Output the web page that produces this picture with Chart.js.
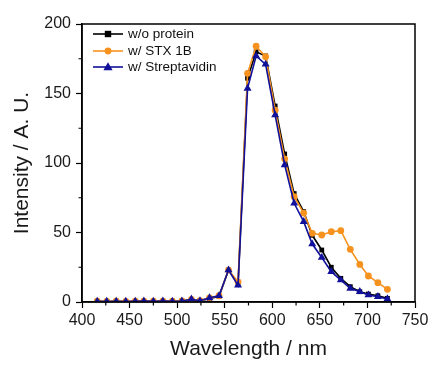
<!DOCTYPE html>
<html><head><meta charset="utf-8">
<script src="https://cdn.jsdelivr.net/npm/chart.js@4/dist/chart.umd.min.js"></script>
<style>html,body{margin:0;padding:0;background:#fff}#wrap{width:433px;height:365px;position:relative}canvas{display:block}</style>
</head><body><div id="wrap"><canvas id="c" width="433" height="365" style="width:433px;height:365px"></canvas></div>
<script>
const wavelengths = [416,426,436,446,456,465,475,485,495,505,515,524,534,544,554,564,574,583,593,603,613,623,633,642,652,662,672,682,692,701,711,721];
const noProtein   = [0.5,0.4,0.5,0.4,0.5,0.6,0.5,0.6,0.5,0.7,1.5,0.8,2.5,4,23,13,161,180,177,141,106.5,78,65,48,37.4,25,17,11,7.4,5.7,4.5,2.6];
const stx1b       = [0.6,0.5,0.6,0.5,0.6,0.7,0.6,0.7,0.6,0.8,1.8,1.0,3,4.5,23,14.5,164.5,184,176.5,138,103,75.8,64,49.4,48.2,50.6,51.3,37.9,27,18.7,13.9,9.1];
const streptavidin= [0.5,0.4,0.5,0.4,0.5,0.6,0.5,0.6,0.5,0.7,2,0.9,3,4.5,23,12,153.7,177,171,134.5,98.6,71,57.8,41.7,32,21.8,15.8,9.8,7.4,5,3.8,2.2];
const seriesNames = ['w/o protein','w/ STX 1B','w/ Streptavidin'];
const xMinorTicks = [425,475,525,575,625,675,725];
const yMinorTicks = [25,75,125,175];

const BLACK='#000000', ORANGE='#F7921E', BLUE='#10109A';
const FONT='"Liberation Sans", Arial, sans-serif';

function pts(ys){ return wavelengths.map((x,i)=>({x:x,y:ys[i]})); }

const frame = {
  id:'frame',
  afterDatasetsDraw(chart){
    const {ctx, chartArea:a, scales:{x,y}} = chart;
    ctx.save();
    ctx.strokeStyle='#000'; ctx.lineWidth=1.5;
    ctx.strokeRect(a.left, a.top, a.right-a.left, a.bottom-a.top);
    ctx.lineWidth=1.2;
    ctx.beginPath();
    xMinorTicks.forEach(v=>{const px=x.getPixelForValue(v); ctx.moveTo(px,a.bottom); ctx.lineTo(px,a.bottom+3.5);});
    yMinorTicks.forEach(v=>{const py=y.getPixelForValue(v); ctx.moveTo(a.left,py); ctx.lineTo(a.left-3.5,py);});
    ctx.stroke();
    // legend
    const rows=[34,51,67];
    chart.data.datasets.forEach((ds,i)=>{
      const yy=rows[i];
      ctx.strokeStyle=ds.borderColor; ctx.lineWidth=1.6;
      ctx.beginPath(); ctx.moveTo(93,yy); ctx.lineTo(123,yy); ctx.stroke();
      ctx.fillStyle=ds.backgroundColor;
      const cx=108;
      if(ds.pointStyle==='rect'){ ctx.fillRect(cx-3.2,yy-3.2,6.4,6.4); }
      else if(ds.pointStyle==='circle'){ ctx.beginPath(); ctx.arc(cx,yy,3.4,0,Math.PI*2); ctx.fill(); }
      else { ctx.beginPath(); ctx.moveTo(cx,yy-4.8); ctx.lineTo(cx+4.6,yy+3.2); ctx.lineTo(cx-4.6,yy+3.2); ctx.closePath(); ctx.fill(); }
      ctx.fillStyle='#111'; ctx.font='13.5px '+FONT; ctx.textBaseline='middle'; ctx.textAlign='left';
      ctx.fillText(seriesNames[i],128,yy+0.5);
    });
    ctx.restore();
  }
};

new Chart(document.getElementById('c'), {
  type:'line',
  data:{datasets:[
    {label:seriesNames[0], data:pts(noProtein), borderColor:BLACK, backgroundColor:BLACK, pointStyle:'rect', pointRadius:3.4, borderWidth:1.6, pointBorderWidth:0, order:2},
    {label:seriesNames[1], data:pts(stx1b), borderColor:ORANGE, backgroundColor:ORANGE, pointStyle:'circle', pointRadius:3.4, borderWidth:1.6, pointBorderWidth:0, order:1},
    {label:seriesNames[2], data:pts(streptavidin), borderColor:BLUE, backgroundColor:BLUE, pointStyle:'triangle', pointRadius:4.6, borderWidth:1.6, pointBorderWidth:0, order:0}
  ]},
  options:{
    responsive:false, animation:false, devicePixelRatio:1,
    layout:{padding:{left:0,right:18,top:24,bottom:0}},
    plugins:{legend:{display:false}, tooltip:{enabled:false}},
    elements:{line:{tension:0}},
    scales:{
      x:{type:'linear', min:400, max:750,
        afterFit(s){ s.height=63; },
        ticks:{stepSize:50, color:'#1a1a1a', font:{family:FONT,size:16}, padding:3, maxRotation:0, autoSkip:false},
        grid:{drawOnChartArea:false, drawTicks:true, tickLength:6, color:'#000', tickWidth:1.2},
        border:{display:true,color:'#000',width:1.5},
        title:{display:true, text:'Wavelength / nm', color:'#1a1a1a', font:{family:FONT,size:21}, padding:{top:0,bottom:3}}
      },
      y:{type:'linear', min:0, max:200,
        afterFit(s){ s.width=82; },
        ticks:{stepSize:50, color:'#1a1a1a', font:{family:FONT,size:16}, padding:5},
        grid:{drawOnChartArea:false, drawTicks:true, tickLength:6, color:'#000', tickWidth:1.2},
        border:{display:true,color:'#000',width:1.5},
        title:{display:true, text:'Intensity / A. U.', color:'#1a1a1a', font:{family:FONT,size:21}, padding:{top:10,bottom:0}}
      }
    }
  },
  plugins:[frame]
});
</script>
</body></html>
